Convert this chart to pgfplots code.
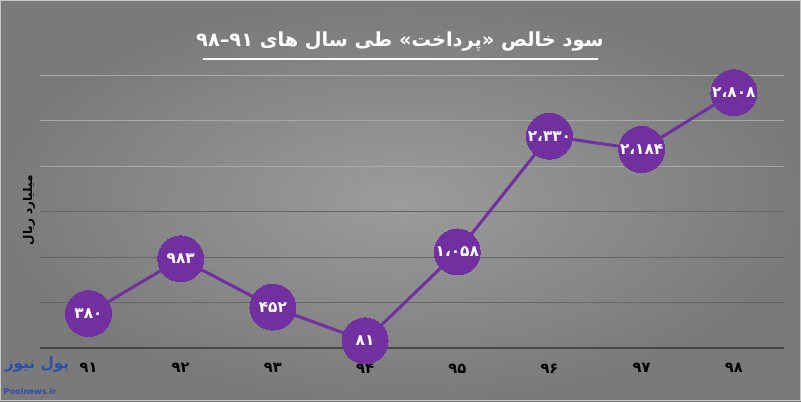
\documentclass[border=0pt]{standalone}
\usepackage{pgfplots}
\pgfplotsset{compat=1.18}
\usepackage{fontspec}
\setmainfont{DejaVu Sans}
\TeXXeTstate=1
\newfontfamily\fa[Script=Arabic]{DejaVu Sans}
\definecolor{purp}{HTML}{7030A0}
\definecolor{bgin}{HTML}{9C9C9C}
\definecolor{bgout}{HTML}{7A7A7A}
\definecolor{gridlight}{HTML}{A8A8A8}
\definecolor{griddark}{HTML}{666666}
\definecolor{axisdark}{HTML}{484848}
\definecolor{logoblue}{HTML}{2E4FA8}
\pgfplotsset{base/.style={
  at={(43,58)}, anchor=south west,
  scale only axis, width=558pt, height=204.75pt,
  xmin=-0.53, xmax=7.54, ymin=0, ymax=3000,
  major tick length=0pt, yticklabels={}, clip=false}}
\begin{document}
\begin{tikzpicture}[x=0.75pt,y=0.75pt]
\useasboundingbox (0,0) rectangle (801,401);
\shade[inner color=bgin, outer color=bgout] (0,0) rectangle (801,401);
\draw[color=gray!45, line width=0.75pt] (0.5,0.5) rectangle (800.5,400.5);
% light grid lines (upper part)
\begin{axis}[base,
  axis line style={draw=none},
  xtick=\empty, xticklabels={},
  ytick={2000,2500,3000},
  ymajorgrids=true,
  major grid style={draw=gridlight, line width=0.75pt}]
\end{axis}
\begin{axis}[base,
  axis x line=bottom, axis y line=left,
  x axis line style={-, draw=axisdark, line width=1.5pt},
  y axis line style={draw=none},
  ytick={500,1000,1500},
  ymajorgrids=true,
  major grid style={draw=griddark, line width=0.75pt},
  xtick={0,...,7},
  xticklabels={۹۱,۹۲,۹۳,۹۴,۹۵,۹۶,۹۷,۹۸},
  xticklabel style={font=\fa\bfseries\fontsize{11}{12}\selectfont, text=black, yshift=-8pt},
]
\addplot[purp, line width=2.25pt, mark=*, mark size=17.25pt,
  mark options={fill=purp, draw=purp, line width=0pt},
  point meta=explicit symbolic,
  nodes near coords={\pgfplotspointmeta},
  every node near coord/.style={anchor=center, text=white, font=\fa\bfseries\fontsize{11.5}{13}\selectfont}]
coordinates {
(0,380) [۳۸۰]
(1,983) [۹۸۳]
(2,452) [۴۵۲]
(3,81) [۸۱]
(4,1058) [۱،۰۵۸]
(5,2330) [۲،۳۳۰]
(6,2184) [۲،۱۸۴]
(7,2808) [۲،۸۰۸]
};
\end{axis}
\node[text=white, font=\fa\bfseries\fontsize{14.5}{17}\selectfont] at (400,359) {۹۱–۹۸ \beginR سود خالص «پرداخت» طی سال های\endR};
\draw[white, line width=1pt] (203,342) -- (598,342);
\node[rotate=90, text=black, font=\fa\bfseries\fontsize{9}{11}\selectfont] at (29,191) {\beginR میلیارد ریال\endR};
\node[text=logoblue, font=\fa\bfseries\fontsize{11.5}{14}\selectfont, inner sep=1pt] at (37,36) {\beginR پول نیوز\endR};
\node[text=logoblue, font=\bfseries\fontsize{6}{7}\selectfont] at (30,9) {Poolnews.ir};
\end{tikzpicture}
\end{document}
